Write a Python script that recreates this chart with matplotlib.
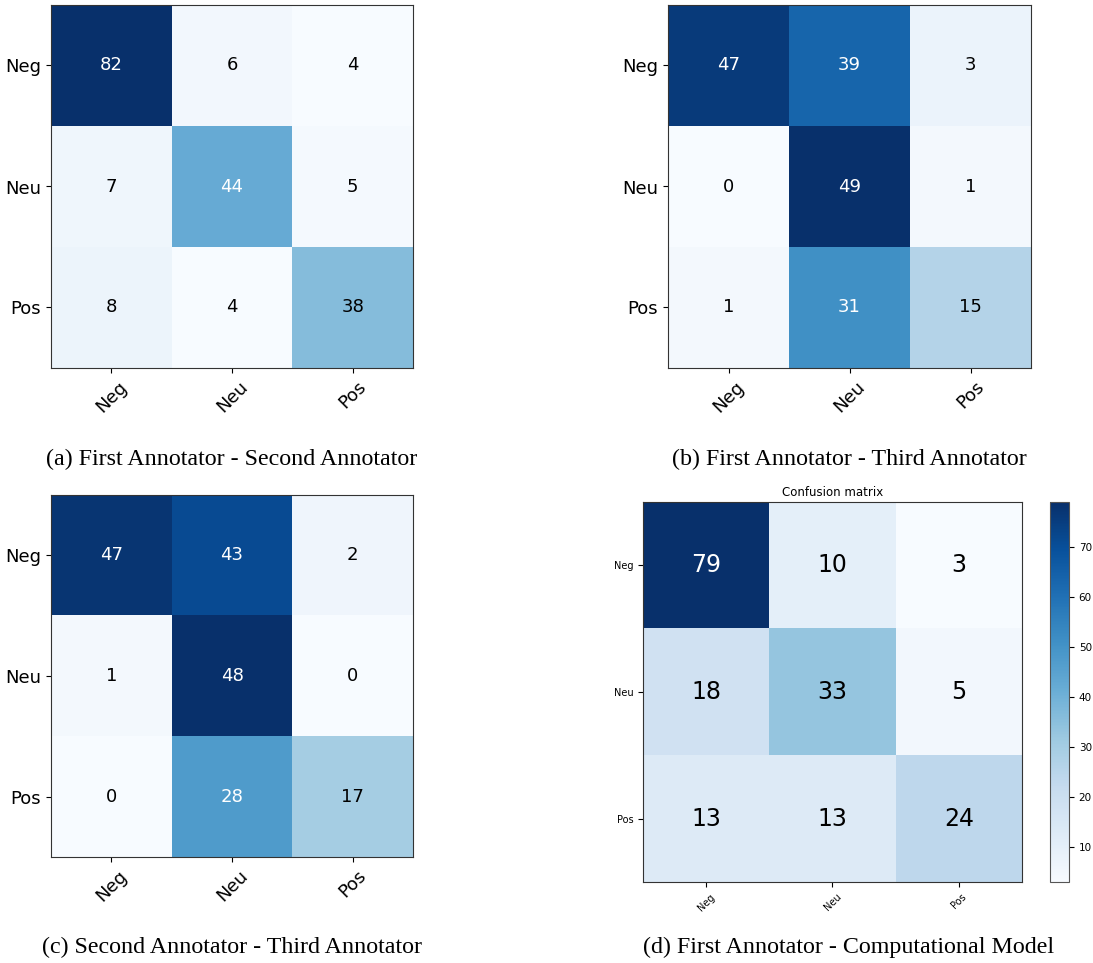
import numpy as np
import matplotlib.pyplot as plt

W, H = 1093, 963

labels = ['Neg', 'Neu', 'Pos']

cm_a = np.array([[82, 6, 4],
                 [7, 44, 5],
                 [8, 4, 38]])
cm_b = np.array([[47, 39, 3],
                 [0, 49, 1],
                 [1, 31, 15]])
cm_c = np.array([[47, 43, 2],
                 [1, 48, 0],
                 [0, 28, 17]])
cm_d = np.array([[79, 10, 3],
                 [18, 33, 5],
                 [13, 13, 24]])

captions = ['(a) First Annotator - Second Annotator',
            '(b) First Annotator - Third Annotator',
            '(c) Second Annotator - Third Annotator',
            '(d) First Annotator - Computational Model']


def px_axes(fig, x0, y0, x1, y1):
    # pixel box (top-left origin) -> figure fraction
    return fig.add_axes([x0 / W, 1 - y1 / H, (x1 - x0) / W, (y1 - y0) / H])


def matriz(ax, cm, tick_fs, num_fs):
    im = ax.imshow(cm, interpolation='nearest', cmap=plt.cm.Blues, aspect='auto')
    ax.set_xticks(range(len(labels)))
    ax.set_yticks(range(len(labels)))
    ax.set_xticklabels(labels, rotation=45, fontsize=tick_fs)
    ax.set_yticklabels(labels, fontsize=tick_fs)
    limite = cm.max() / 2.
    for i in range(cm.shape[0]):
        for j in range(cm.shape[1]):
            ax.text(j, i, format(cm[i, j], 'd'), ha='center', va='center',
                    fontsize=num_fs,
                    color='white' if cm[i, j] > limite else 'black')
    for s in ax.spines.values():
        s.set_color('#333333')
    return im


fig = plt.figure(figsize=(W / 100, H / 100), dpi=100)

ax_a = px_axes(fig, 51, 5, 413, 368)
matriz(ax_a, cm_a, 13, 13)
ax_b = px_axes(fig, 668, 5, 1031, 368)
matriz(ax_b, cm_b, 13, 13)
ax_c = px_axes(fig, 51, 495, 413, 857)
matriz(ax_c, cm_c, 13, 13)

ax_d = px_axes(fig, 643, 502, 1022, 882)
im = matriz(ax_d, cm_d, 7, 17)
ax_d.set_title('Confusion matrix', fontsize=8.5, pad=4)
cax = px_axes(fig, 1050, 502, 1069, 882)
cb = fig.colorbar(im, cax=cax)
cb.ax.tick_params(labelsize=7.5)
cb.outline.set_edgecolor('#555555')

cap_pos = [(232, 459), (849, 459), (232, 947), (849, 947)]
for (cx, cy), txt in zip(cap_pos, captions):
    fig.text(cx / W, 1 - cy / H, txt, ha='center', va='center',
             fontsize=17.3, family='Liberation Serif')

fig.savefig('out.png', dpi=100)
